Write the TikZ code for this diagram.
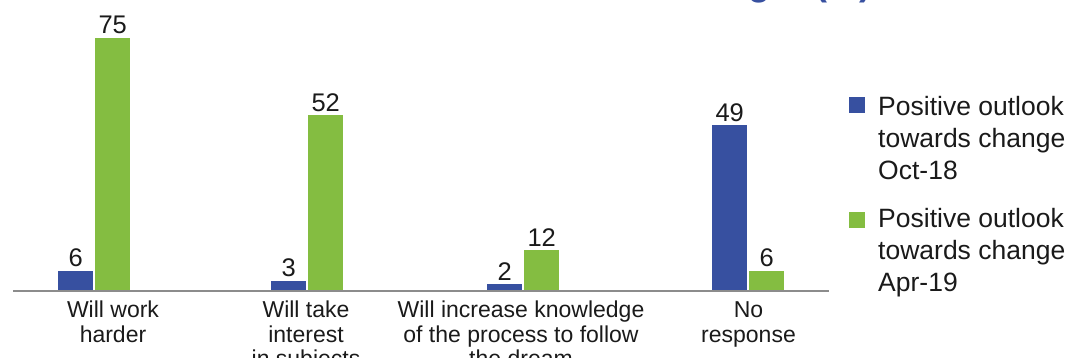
\documentclass[tikz,border=0pt]{standalone}
\usepackage{fontspec}
\setmainfont{Liberation Sans}
\definecolor{octblue}{HTML}{3750A0}
\definecolor{aprgreen}{HTML}{84BD41}
\definecolor{axisgray}{HTML}{8C8C8C}
\definecolor{labtxt}{HTML}{1A1A1A}

\tikzset{
  barbox/.style={draw=none,inner sep=0pt,minimum width=35pt,anchor=south west},
  vallab/.style={font=\fontsize{25.5}{30}\selectfont,text=labtxt,anchor=base,inner sep=0pt},
  catlab/.style={font=\fontsize{23}{24.3}\selectfont,text=labtxt,align=center,anchor=base,inner sep=0pt},
  leglab/.style={font=\fontsize{26.5}{32}\selectfont,text=labtxt,align=left,anchor=base west,inner sep=0pt},
  legkey/.style={draw=none,inner sep=0pt,minimum size=16pt,anchor=south west}
}

\begin{document}
\begin{tikzpicture}[x=1pt,y=1pt]
\useasboundingbox (0,0) rectangle (1071,358);
\clip (0,0) rectangle (1071,358);

% title, cut off by the top edge
\node[font=\fontsize{36}{40}\selectfont\bfseries,text=octblue,anchor=base east,inner sep=0pt] (title) at (872,362.5) {Positive outlook towards change\hspace{0.7em}(\%)};

% bars and values
\foreach \n/\bx/\vo/\va in {1/58/6/75,2/271/3/52,3/487/2/12,4/712/49/6}
{\node[barbox,fill=octblue,minimum height={\vo*3.375pt}] (oct\n) at (\bx,67) {};
\node[barbox,fill=aprgreen,minimum height={\va*3.375pt}] (apr\n) at (\bx+37,67) {};
\node[vallab] (voct\n) at ([yshift=3.5pt]oct\n.north) {\vo};
\node[vallab] (vapr\n) at ([yshift=3.5pt]apr\n.north) {\va};
}

% axis
\coordinate (axl) at (13,67);
\coordinate (axr) at (829,67);
\draw[axisgray,line width=1.5pt] (axl) -- (axr);

% categories (base = last line)
\foreach \n/\cx/\nl/\txt in {1/113/2/{Will work\\harder},2/306/3/{Will take\\interest\\in subjects},3/521/3/{Will increase knowledge\\of the process to follow\\the dream},4/748.5/2/{No\\response}}
{\node[catlab] (cat\n) at (\cx,{40-(\nl-1)*24.3}) {\txt};}

% legend
\node[legkey,fill=octblue] (koct) at (849,245) {};
\node[leglab] (loct) at (878,178) {Positive outlook\\towards change\\Oct-18};
\node[legkey,fill=aprgreen] (kapr) at (849,130) {};
\node[leglab] (lapr) at (878,66) {Positive outlook\\towards change\\Apr-19};
\end{tikzpicture}
\end{document}
